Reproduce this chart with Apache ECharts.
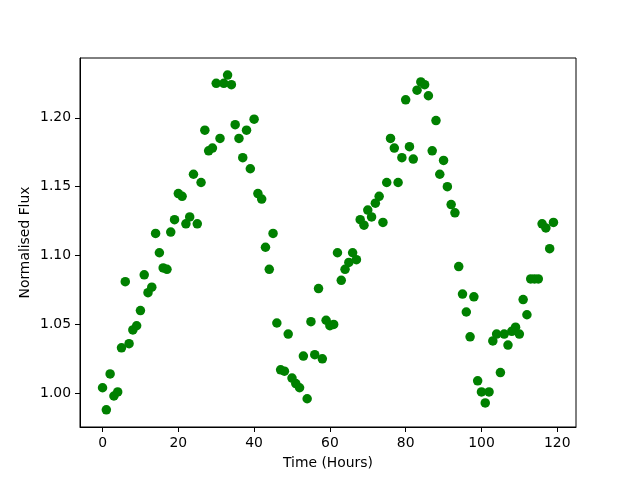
<!DOCTYPE html>
<html>
<head>
<meta charset="utf-8">
<script src="https://cdn.jsdelivr.net/npm/echarts@6/dist/echarts.min.js"></script>
<style>
  html, body { margin: 0; padding: 0; background: #fff; }
  #chart_container { width: 640px; height: 480px; }
</style>
</head>
<body>
<div id="chart_container"></div>
<script>
// observation times (hours)
var hours = [
  0, 1, 2, 3, 4, 5, 6, 7, 8, 9, 10, 11, 12, 13, 14, 15, 16, 17, 18, 19,
  20, 21, 22, 23, 24, 25, 26, 27, 28, 29, 30, 31, 32, 33, 34, 35, 36, 37, 38, 39,
  40, 41, 42, 43, 44, 45, 46, 47, 48, 49, 50, 51, 52, 53, 54, 55, 56, 57, 58, 59,
  60, 61, 62, 63, 64, 65, 66, 67, 68, 69, 70, 71, 72, 73, 74, 75, 76, 77, 78, 79,
  80, 81, 82, 83, 84, 85, 86, 87, 88, 89, 90, 91, 92, 93, 94, 95, 96, 97, 98, 99,
  100, 101, 102, 103, 104, 105, 106, 107, 108, 109, 110, 111, 112, 113, 114, 115, 116, 117, 118, 119
];

// normalised flux
var flux = [
  1.004, 0.988, 1.014, 0.998, 1.001, 1.033, 1.081, 1.036, 1.046, 1.049,
  1.060, 1.086, 1.073, 1.077, 1.116, 1.102, 1.091, 1.090, 1.117, 1.126,
  1.145, 1.143, 1.123, 1.128, 1.159, 1.123, 1.153, 1.191, 1.176, 1.178,
  1.225, 1.185, 1.225, 1.231, 1.224, 1.195, 1.185, 1.171, 1.191, 1.163,
  1.199, 1.145, 1.141, 1.106, 1.090, 1.116, 1.051, 1.017, 1.016, 1.043,
  1.011, 1.007, 1.004, 1.027, 0.996, 1.052, 1.028, 1.076, 1.025, 1.053,
  1.049, 1.050, 1.102, 1.082, 1.090, 1.095, 1.102, 1.097, 1.126, 1.122,
  1.133, 1.128, 1.138, 1.143, 1.124, 1.153, 1.185, 1.178, 1.153, 1.171,
  1.213, 1.179, 1.170, 1.220, 1.226, 1.224, 1.216, 1.176, 1.198, 1.159,
  1.169, 1.150, 1.137, 1.131, 1.092, 1.072, 1.059, 1.041, 1.070, 1.009,
  1.001, 0.993, 1.001, 1.038, 1.043, 1.015, 1.043, 1.035, 1.045, 1.048,
  1.043, 1.068, 1.057, 1.083, 1.083, 1.083, 1.123, 1.120, 1.105, 1.124
];

var xTicks = [0, 20, 40, 60, 80, 100, 120];
var yTicks = [1.00, 1.05, 1.10, 1.15, 1.20];

var points = hours.map(function (h, i) { return [h, flux[i]]; });

var dom = document.getElementById("chart_container");
var myChart = echarts.init(dom, null, { renderer: "canvas" });
var font = "DejaVu Sans";

var option = {
  backgroundColor: "#fff",
  animation: false,
  grid: {
    left: 80, right: 64, top: 58, bottom: 53,
    show: true, borderColor: "#000", borderWidth: 1, backgroundColor: "transparent"
  },
  xAxis: {
    type: "value",
    min: -5.95,
    max: 124.95,
    name: "Time (Hours)",
    nameLocation: "middle",
    nameGap: 29,
    nameMoveOverlap: false,
    nameTextStyle: { color: "#000", fontSize: 13.9, fontFamily: font },
    splitLine: { show: false },
    axisLine: { show: true, onZero: false, lineStyle: { color: "#000", width: 1 } },
    axisTick: { show: true, length: 5, lineStyle: { color: "#000" }, customValues: xTicks },
    axisLabel: {
      color: "#000", fontSize: 13.9, fontFamily: font, margin: 9,
      customValues: xTicks
    }
  },
  yAxis: {
    type: "value",
    min: 0.9755,
    max: 1.2434,
    name: "Normalised Flux",
    nameLocation: "middle",
    nameGap: 48,
    nameMoveOverlap: false,
    nameTextStyle: { color: "#000", fontSize: 13.9, fontFamily: font },
    splitLine: { show: false },
    axisLine: { show: true, onZero: false, lineStyle: { color: "#000", width: 1 } },
    axisTick: { show: true, length: 5, lineStyle: { color: "#000" }, customValues: yTicks },
    axisLabel: {
      color: "#000", fontSize: 13.9, fontFamily: font, margin: 9,
      customValues: yTicks,
      formatter: function (v) { return v.toFixed(2); }
    }
  },
  series: [
    {
      type: "scatter",
      data: points,
      symbol: "circle",
      symbolSize: 9.5,
      itemStyle: { color: "#008000", opacity: 1 }
    }
  ]
};

myChart.setOption(option);
window.addEventListener("resize", myChart.resize);
</script>
</body>
</html>
